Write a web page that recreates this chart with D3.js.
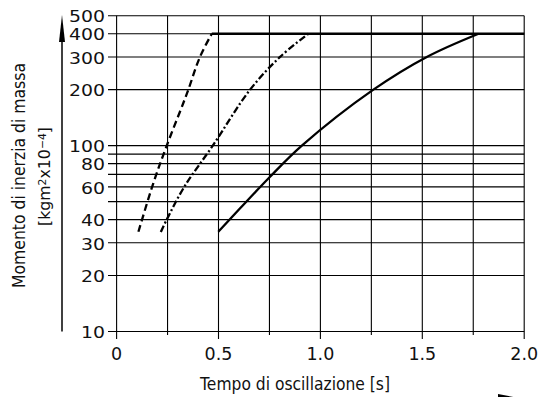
<!DOCTYPE html>
<html><head><meta charset="utf-8">
<script src="https://cdn.jsdelivr.net/npm/d3@7"></script>
<style>
html,body{margin:0;padding:0;background:#fff;}
svg{display:block;}
text{font-family:"DejaVu Sans",sans-serif;fill:#111;}
</style></head>
<body>
<svg id="c" width="540" height="397"></svg>
<script>
// ---- data ----
const xTickValues = [0, 0.5, 1.0, 1.5, 2.0];
const xTickLabels = ["0", "0.5", "1.0", "1.5", "2.0"];
const xGridValues = [0, 0.25, 0.5, 0.75, 1.0, 1.25, 1.5, 1.75, 2.0];
const yLabelValues = [10, 20, 30, 40, 60, 80, 100, 200, 300, 400, 500];
const yGridValues = [10, 20, 30, 40, 50, 60, 70, 80, 90, 100, 200, 300, 400, 500];

const dashedT = [0.107, 0.180, 0.246, 0.327, 0.352, 0.409, 0.467];
const dashedV = [34.4, 62.7, 100, 169, 200, 300, 400];

const dashDotT = [0.217, 0.246, 0.332, 0.472, 0.655, 0.802, 0.941];
const dashDotV = [34.3, 40, 60, 100, 200, 300, 400];

const solidT = [0.499, 0.606, 0.753, 0.909, 1.26, 1.522, 1.776];
const solidV = [34.4, 46, 68, 100, 200, 300, 400];

const plateauT = [0.467, 2.0];
const plateauV = [400, 400];

const xTitle = "Tempo di oscillazione [s]";
const yTitle1 = "Momento di inerzia di massa";

// ---- drawing ----
const svg = d3.select("#c");
const x = d3.scaleLinear().domain([0, 2]).range([116.6, 524.2]);
const y = d3.scaleLog().domain([10, 500]).range([331.5, 15.7]);

const g = svg.append("g");

// horizontal grid (extends left as tick)
g.selectAll("line.hg").data(yGridValues).enter().append("line")
  .attr("x1", 108).attr("x2", x(2))
  .attr("y1", d => y(d)).attr("y2", d => y(d))
  .attr("stroke", "#000").attr("stroke-width", 1.1);

// vertical grid (extends down as tick)
g.selectAll("line.vg").data(xGridValues).enter().append("line")
  .attr("x1", d => x(d)).attr("x2", d => x(d))
  .attr("y1", y(500))
  .attr("y2", (d, i) => y(10) + (i % 2 === 0 ? 7.5 : 3.5))
  .attr("stroke", "#000").attr("stroke-width", 1.1);

// y tick labels
g.selectAll("text.yl").data(yLabelValues).enter().append("text")
  .attr("x", 105).attr("y", d => y(d) + 1)
  .attr("dy", "0.35em").attr("text-anchor", "end")
  .attr("font-size", 16.5).attr("textLength", d => String(d).length * 12)
  .attr("lengthAdjust", "spacingAndGlyphs").text(d => d);

// x tick labels
g.selectAll("text.xl").data(xTickValues).enter().append("text")
  .attr("x", d => x(d)).attr("y", 360)
  .attr("text-anchor", "middle").attr("font-size", 17.5)
  .text((d, i) => xTickLabels[i]);

// curves
const line = d3.line().x(d => x(d[0])).y(d => y(d[1])).curve(d3.curveCatmullRom.alpha(0.5));
const zip = (a, b) => a.map((v, i) => [v, b[i]]);

g.append("path").datum(zip(dashedT, dashedV)).attr("d", line)
  .attr("fill", "none").attr("stroke", "#000").attr("stroke-width", 2.3)
  .attr("stroke-dasharray", "7,4");
g.append("path").datum(zip(dashDotT, dashDotV)).attr("d", line)
  .attr("fill", "none").attr("stroke", "#000").attr("stroke-width", 2.3)
  .attr("stroke-dasharray", "7,2.5,2,2.5");
g.append("path").datum(zip(solidT, solidV)).attr("d", line)
  .attr("fill", "none").attr("stroke", "#000").attr("stroke-width", 2.3);
g.append("path").datum(zip(plateauT, plateauV)).attr("d", d3.line().x(d => x(d[0])).y(d => y(d[1])))
  .attr("fill", "none").attr("stroke", "#000").attr("stroke-width", 2.6);

// y axis arrow
g.append("line").attr("x1", 62).attr("x2", 62).attr("y1", y(10)).attr("y2", 38)
  .attr("stroke", "#000").attr("stroke-width", 1.5);
g.append("path").attr("d", "M62,15 L65,42 L59,42 Z").attr("fill", "#000");

// x axis arrow fragment (bottom right)
g.append("path").attr("d", "M498,394 L521,398.5 L498,403 Z").attr("fill", "#000");

// titles
g.append("text").attr("x", 200).attr("y", 390)
  .attr("font-size", 17).attr("textLength", 190).attr("lengthAdjust", "spacingAndGlyphs")
  .text(xTitle);

g.append("text").attr("transform", "translate(25,288) rotate(-90)")
  .attr("font-size", 17).attr("textLength", 225).attr("lengthAdjust", "spacingAndGlyphs")
  .text(yTitle1);

const t2 = g.append("text").attr("transform", "translate(50,226) rotate(-90)")
  .attr("font-size", 16).attr("textLength", 99).attr("lengthAdjust", "spacingAndGlyphs");
t2.append("tspan").text("[kgm");
t2.append("tspan").attr("baseline-shift", "35%").attr("font-size", 11).text("2");
t2.append("tspan").text("x10");
t2.append("tspan").attr("baseline-shift", "35%").attr("font-size", 11).text("−4");
t2.append("tspan").text("]");
</script>
</body></html>
